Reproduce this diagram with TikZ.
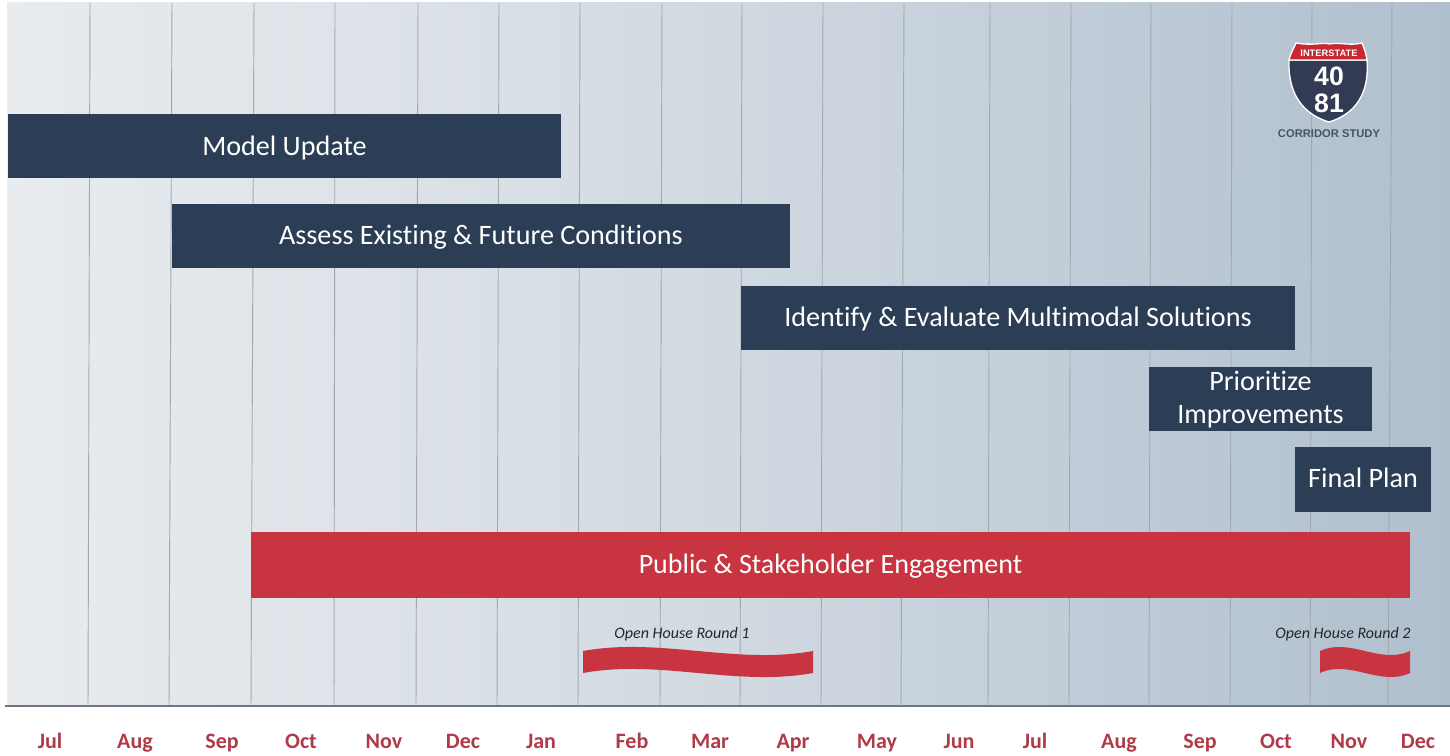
\documentclass[tikz,border=0pt]{standalone}
\usepackage{fontspec}
\setmainfont{Carlito}[Ligatures={NoCommon,TeX}]
\newfontfamily\shieldfont{Liberation Sans}
\definecolor{navy}{RGB}{43,62,85}
\definecolor{barred}{RGB}{200,53,64}
\definecolor{monthred}{RGB}{176,58,72}
\definecolor{gridline}{RGB}{160,168,176}
\definecolor{axisline}{RGB}{110,118,128}
\definecolor{shieldnavy}{RGB}{50,58,84}
\definecolor{shieldred}{RGB}{200,40,50}
\definecolor{shieldtext}{RGB}{72,84,104}
\tikzset{
  x=0.75pt,y=-0.75pt,
  taskbase/.style={fill=navy,text=white,inner sep=0pt,align=center,font=\fontsize{21.1}{25}\selectfont},
  taskbar/.style={taskbase,text height=16pt,text depth=3.2pt},
  engagebar/.style={fill=barred,text=white,inner sep=0pt,align=center,text height=16pt,text depth=3.2pt,font=\fontsize{21}{25}\selectfont},
  month/.style={anchor=base,text=monthred,inner sep=0pt,font=\fontsize{16.5}{18}\selectfont\bfseries},
  gridrule/.style={draw=gridline,line width=0.7pt},
  housenote/.style={inner sep=0pt,text=black!85,font=\fontsize{12}{14}\selectfont\itshape},
  wave/.style={fill=barred},
}
\begin{document}
\begin{tikzpicture}
\useasboundingbox (0,0) rectangle (1450,756);
\fill[white] (0,0) rectangle (1450,756);
\shade[left color={rgb,255:red,232;green,236;blue,239},right color={rgb,255:red,176;green,191;blue,206},middle color={rgb,255:red,209;green,217;blue,225}] (7,3) rectangle (1450,706);
% grid
\foreach \a/\b in {90/88,172/169,254/251,335/334,418/416,499/497,580/578,662/660,742/740,823/821,904/901,990/988,1071/1069,1151/1149,1232/1230,1312/1310,1392/1388}
  \draw[gridrule] (\a,3) -- (\b,706);
\draw[axisline,line width=1pt] (5,706) -- (1450,706);
% bars
\node[taskbar,minimum width={553*0.75pt},minimum height={64*0.75pt}] (model) at (284.5,146.5) {Model Update};
\node[taskbar,minimum width={618*0.75pt},minimum height={64*0.75pt}] (assess) at (481,236) {Assess Existing \& Future Conditions};
\node[taskbar,minimum width={554*0.75pt},minimum height={64*0.75pt}] (identify) at (1018,317.5) {Identify \& Evaluate Multimodal Solutions};
\node[taskbase,minimum width={223*0.75pt},minimum height={64*0.75pt}] (prior) at (1260.5,398.5) {\raisebox{-6.5pt}[0pt][0pt]{\begin{tabular}{@{}c@{}}Prioritize\\Improvements\end{tabular}}};
\node[taskbar,minimum width={136*0.75pt},minimum height={65*0.75pt}] (final) at (1363,479) {Final Plan};
\node[engagebar,minimum width={1159*0.75pt},minimum height={66*0.75pt}] (engage) at (830.5,565) {Public \& Stakeholder Engagement};
% open house
\node[housenote] (oh1) at (682,634) {Open House Round 1};
\node[housenote] (oh2) at (1343,634) {Open House Round 2};
\fill[wave] (583,651) .. controls (660,637) and (736,665) .. (813,651) -- (813,673) .. controls (736,687) and (660,659) .. (583,673) -- cycle;
\fill[wave] (1320,651) .. controls (1350,637) and (1380,665) .. (1410,651) -- (1410,673) .. controls (1380,687) and (1350,659) .. (1320,673) -- cycle;
% months
\foreach \n/\t/\p in {jul/Jul/50,aug/Aug/135,sep/Sep/222,oct/Oct/301,nov/Nov/384,dec/Dec/463,jan/Jan/541,feb/Feb/632,mar/Mar/710,apr/Apr/793,may/May/877,jun/Jun/959,julb/Jul/1035,augb/Aug/1119,sepb/Sep/1200,octb/Oct/1276,novb/Nov/1349,decb/Dec/1418}
  \node[month] (m\n) at (\p,748) {\t};
% shield
\filldraw[draw=white,line width=1pt,fill=shieldnavy] (1289,60) .. controls (1288,85) and (1296,112) .. (1329,122) .. controls (1362,112) and (1369,85) .. (1367,60) -- cycle;
\filldraw[draw=white,line width=1pt,fill=shieldred] (1289,60) .. controls (1291,52) and (1294,48) .. (1296,43) .. controls (1312,46) and (1325,42) .. (1329,44) .. controls (1340,42) and (1350,46) .. (1362,43) .. controls (1364,48) and (1366,53) .. (1367,60) -- cycle;
\node[inner sep=0pt,text=white,font=\shieldfont\fontsize{7}{8}\selectfont\bfseries] (interstate) at (1329,53.5) {INTERSTATE};
\node[inner sep=0pt,text=white,align=center,font=\shieldfont\fontsize{20}{20.4}\selectfont\bfseries] (route) at (1329,89.5) {40\\81};
\node[inner sep=0pt,text=shieldtext,font=\shieldfont\fontsize{8.4}{10}\selectfont\bfseries] (study) at (1329,134) {CORRIDOR STUDY};
\end{tikzpicture}
\end{document}
